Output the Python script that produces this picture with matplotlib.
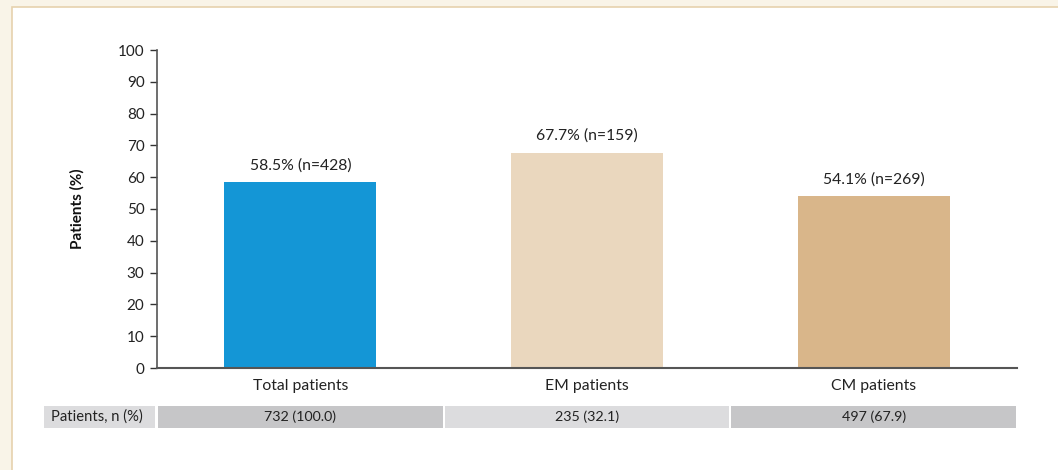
import matplotlib
matplotlib.use("Agg")
import matplotlib.pyplot as plt
from matplotlib.patches import Rectangle
from matplotlib.transforms import blended_transform_factory

categories = ["Total patients", "EM patients", "CM patients"]
values = [58.5, 67.7, 54.1]
n_values = [428, 159, 269]
table_label = "Patients, n (%)"
table_values = ["732 (100.0)", "235 (32.1)", "497 (67.9)"]
bar_colors = ["#1496D6", "#EAD7BE", "#D9B68A"]
yticks = list(range(0, 101, 10))

plt.rcParams['font.family'] = ['Lato', 'DejaVu Sans']

W, H = 1058, 470
fig = plt.figure(figsize=(W / 100, H / 100), dpi=100)
fig.patch.set_facecolor("#F9F4E8")

# white panel with tan border
panel = Rectangle((12 / W, -0.1), 1.2, (H - 7) / H + 0.1, transform=fig.transFigure,
                  facecolor="white", edgecolor="#E6D2AE", linewidth=1.2, zorder=-5)
fig.patches.append(panel)

ax = fig.add_axes([157 / W, (H - 368) / H, (1017 - 157) / W, (368 - 50) / H])
ax.set_facecolor("none")
x = list(range(len(categories)))
ax.bar(x, values, width=0.53, color=bar_colors, zorder=2)
ax.set_xlim(-0.5, len(categories) - 0.5)
ax.set_ylim(0, 100)
ax.set_yticks(yticks)
ax.set_xticks(x)
ax.set_xticklabels(categories, fontsize=11.3, color="#222222")
ax.tick_params(axis="y", labelsize=11, colors="#333333", length=5, width=1, pad=4)
ax.tick_params(axis="x", length=0, pad=8)
for lab in ax.get_yticklabels():
    lab.set_color("#222222")
for s in ["top", "right"]:
    ax.spines[s].set_visible(False)
ax.spines["left"].set_color("#555555")
ax.spines["bottom"].set_color("#555555")
ax.spines["left"].set_linewidth(1.2)
ax.spines["bottom"].set_linewidth(1.5)

ax.set_ylabel("Patients (%)", fontsize=11, fontweight="bold", labelpad=24, color="#111111")

for xi, v, n in zip(x, values, n_values):
    ax.annotate(f"{v}% (n={n})", (xi, v), xytext=(0, 7), textcoords="offset points",
                ha="center", va="bottom", fontsize=11.3, color="#222222")

# table row
tr = blended_transform_factory(ax.transData, fig.transFigure)
y0 = (H - 428) / H
hgt = 22 / H
cell_colors = ["#C6C6C8", "#DCDCDE", "#C6C6C8"]
for xi, txt, c in zip(x, table_values, cell_colors):
    r = Rectangle((xi - 0.5 + 0.004, y0), 0.992, hgt, transform=tr,
                  facecolor=c, edgecolor="none", zorder=-1)
    fig.patches.append(r)
    ax.text(xi, y0 + hgt / 2, txt, transform=tr, ha="center", va="center",
            fontsize=10.3, color="#222222", clip_on=False)
lab = Rectangle((44 / W, y0), (155 - 44) / W, hgt, transform=fig.transFigure,
                facecolor="#DCDCDE", edgecolor="none", zorder=-1)
fig.patches.append(lab)
fig.text(51 / W, y0 + hgt / 2, table_label, ha="left", va="center",
         fontsize=10.6, color="#222222")

fig.savefig("out.png", dpi=100, facecolor=fig.get_facecolor())
